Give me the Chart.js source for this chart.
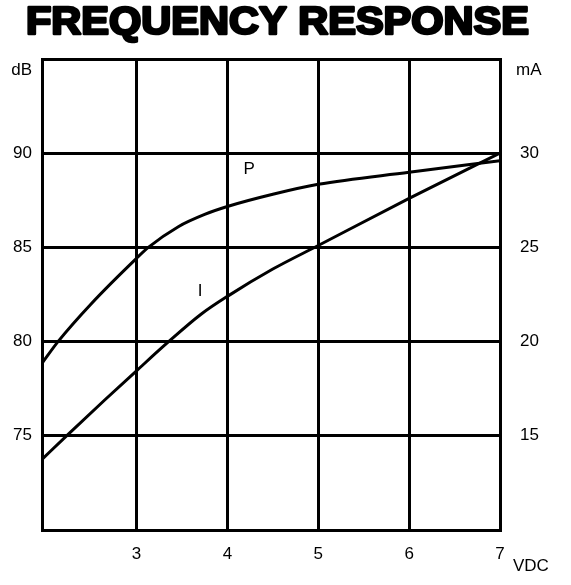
<!DOCTYPE html>
<html>
<head>
<meta charset="utf-8">
<title>Frequency Response</title>
<script src="https://cdn.jsdelivr.net/npm/chart.js@4.4.1/dist/chart.umd.min.js"></script>
<style>
  html, body { margin: 0; padding: 0; background: #fff; }
  #wrap { width: 571px; height: 585px; position: relative; }
</style>
</head>
<body>
<div id="wrap"><canvas id="chart"></canvas></div>
<script>
// Supply voltage (VDC) samples and readings
const voltsP = [1.96, 2.136, 2.5, 3.0, 3.13, 3.46, 3.75, 4.0, 4.5, 5.0, 6.0, 7.0];
const dbP    = [78.85, 80.0, 82.0, 84.42, 85.0, 86.1, 86.75, 87.17, 87.82, 88.35, 88.99, 89.6];
const voltsI = [1.96, 2.23, 2.65, 3.0, 3.35, 3.71, 4.0, 4.5, 5.0, 6.0, 7.0];
const maI    = [13.75, 15.0, 16.9, 18.45, 19.98, 21.45, 22.4, 23.85, 25.1, 27.6, 30.0];

// Axis ticks
const voltTicks = [3, 4, 5, 6, 7];
const dbTicks   = [75, 80, 85, 90];
const maTicks   = [15, 20, 25, 30];

const TITLE = 'FREQUENCY RESPONSE';
const FONT = "'Liberation Sans', Arial, Helvetica, sans-serif";

const vMin = 1.96, vMax = 7;
const dbMin = 70, dbMax = 95;
const maMin = 10, maMax = 35;

const toPoints = (xs, ys) => xs.map((x, i) => ({ x, y: ys[i] }));

// Title, unit captions and curve names
const decorations = {
  id: 'decorations',
  afterDraw(chart) {
    const { ctx, chartArea, scales } = chart;
    ctx.save();
    // heavy title
    ctx.font = 'bold 38px ' + FONT;
    ctx.textBaseline = 'alphabetic';
    ctx.textAlign = 'left';
    const w = ctx.measureText(TITLE).width;
    const target = 503;
    ctx.translate(26, 34);
    ctx.scale(target / w, 1);
    ctx.fillStyle = '#000';
    ctx.strokeStyle = '#000';
    ctx.lineWidth = 2.6;
    ctx.lineJoin = 'round';
    ctx.fillText(TITLE, 0, 0);
    ctx.strokeText(TITLE, 0, 0);
    ctx.restore();

    ctx.save();
    ctx.fillStyle = '#000';
    ctx.font = '17px ' + FONT;
    ctx.textBaseline = 'middle';
    ctx.textAlign = 'right';
    ctx.fillText('dB', chartArea.left - 10, chartArea.top + 11);
    ctx.textAlign = 'left';
    ctx.fillText('mA', chartArea.right + 16, chartArea.top + 11);
    ctx.fillText('VDC', chartArea.right + 13, chart.height - 19);

    ctx.textAlign = 'center';
    ctx.fillText('P', scales.x.getPixelForValue(4.24), scales.yDb.getPixelForValue(89.16));
    ctx.fillText('I', scales.x.getPixelForValue(3.70), scales.yMa.getPixelForValue(22.69));
    ctx.restore();
  }
};

const gridStyle = { color: '#000', lineWidth: 3, drawTicks: false };
const borderStyle = { display: true, color: '#000', width: 3 };
const tickFont = { family: FONT, size: 17 };

new Chart(document.getElementById('chart'), {
  type: 'line',
  data: {
    datasets: [
      {
        label: 'P',
        data: toPoints(voltsP, dbP),
        yAxisID: 'yDb',
        borderColor: '#000',
        borderWidth: 3,
        pointRadius: 0,
        cubicInterpolationMode: 'monotone',
        fill: false
      },
      {
        label: 'I',
        data: toPoints(voltsI, maI),
        yAxisID: 'yMa',
        borderColor: '#000',
        borderWidth: 3,
        pointRadius: 0,
        cubicInterpolationMode: 'monotone',
        fill: false
      }
    ]
  },
  options: {
    responsive: true,
    maintainAspectRatio: false,
    animation: false,
    layout: { padding: { top: 59, left: 0, right: 0, bottom: 0 } },
    plugins: {
      legend: { display: false },
      title: { display: false },
      tooltip: { enabled: false }
    },
    scales: {
      x: {
        type: 'linear',
        min: vMin,
        max: vMax,
        afterBuildTicks: s => { s.ticks = [vMin, ...voltTicks].map(v => ({ value: v })); },
        afterFit: s => { s.height = 55; },
        ticks: {
          color: '#000',
          font: tickFont,
          padding: 14,
          maxRotation: 0,
          callback: v => (voltTicks.includes(v) ? String(v) : '')
        },
        grid: gridStyle,
        border: borderStyle
      },
      yDb: {
        type: 'linear',
        position: 'left',
        min: dbMin,
        max: dbMax,
        afterBuildTicks: s => { s.ticks = [dbMin, ...dbTicks, dbMax].map(v => ({ value: v })); },
        afterFit: s => { s.width = 42; },
        ticks: {
          color: '#000',
          font: tickFont,
          padding: 10,
          callback: v => (dbTicks.includes(v) ? String(v) : '')
        },
        grid: gridStyle,
        border: borderStyle
      },
      yMa: {
        type: 'linear',
        position: 'right',
        min: maMin,
        max: maMax,
        afterBuildTicks: s => { s.ticks = maTicks.map(v => ({ value: v })); },
        afterFit: s => { s.width = 71; },
        ticks: {
          color: '#000',
          font: tickFont,
          padding: 20,
          callback: v => String(v)
        },
        grid: { display: false, drawTicks: false },
        border: borderStyle
      }
    }
  },
  plugins: [decorations]
});
</script>
</body>
</html>
